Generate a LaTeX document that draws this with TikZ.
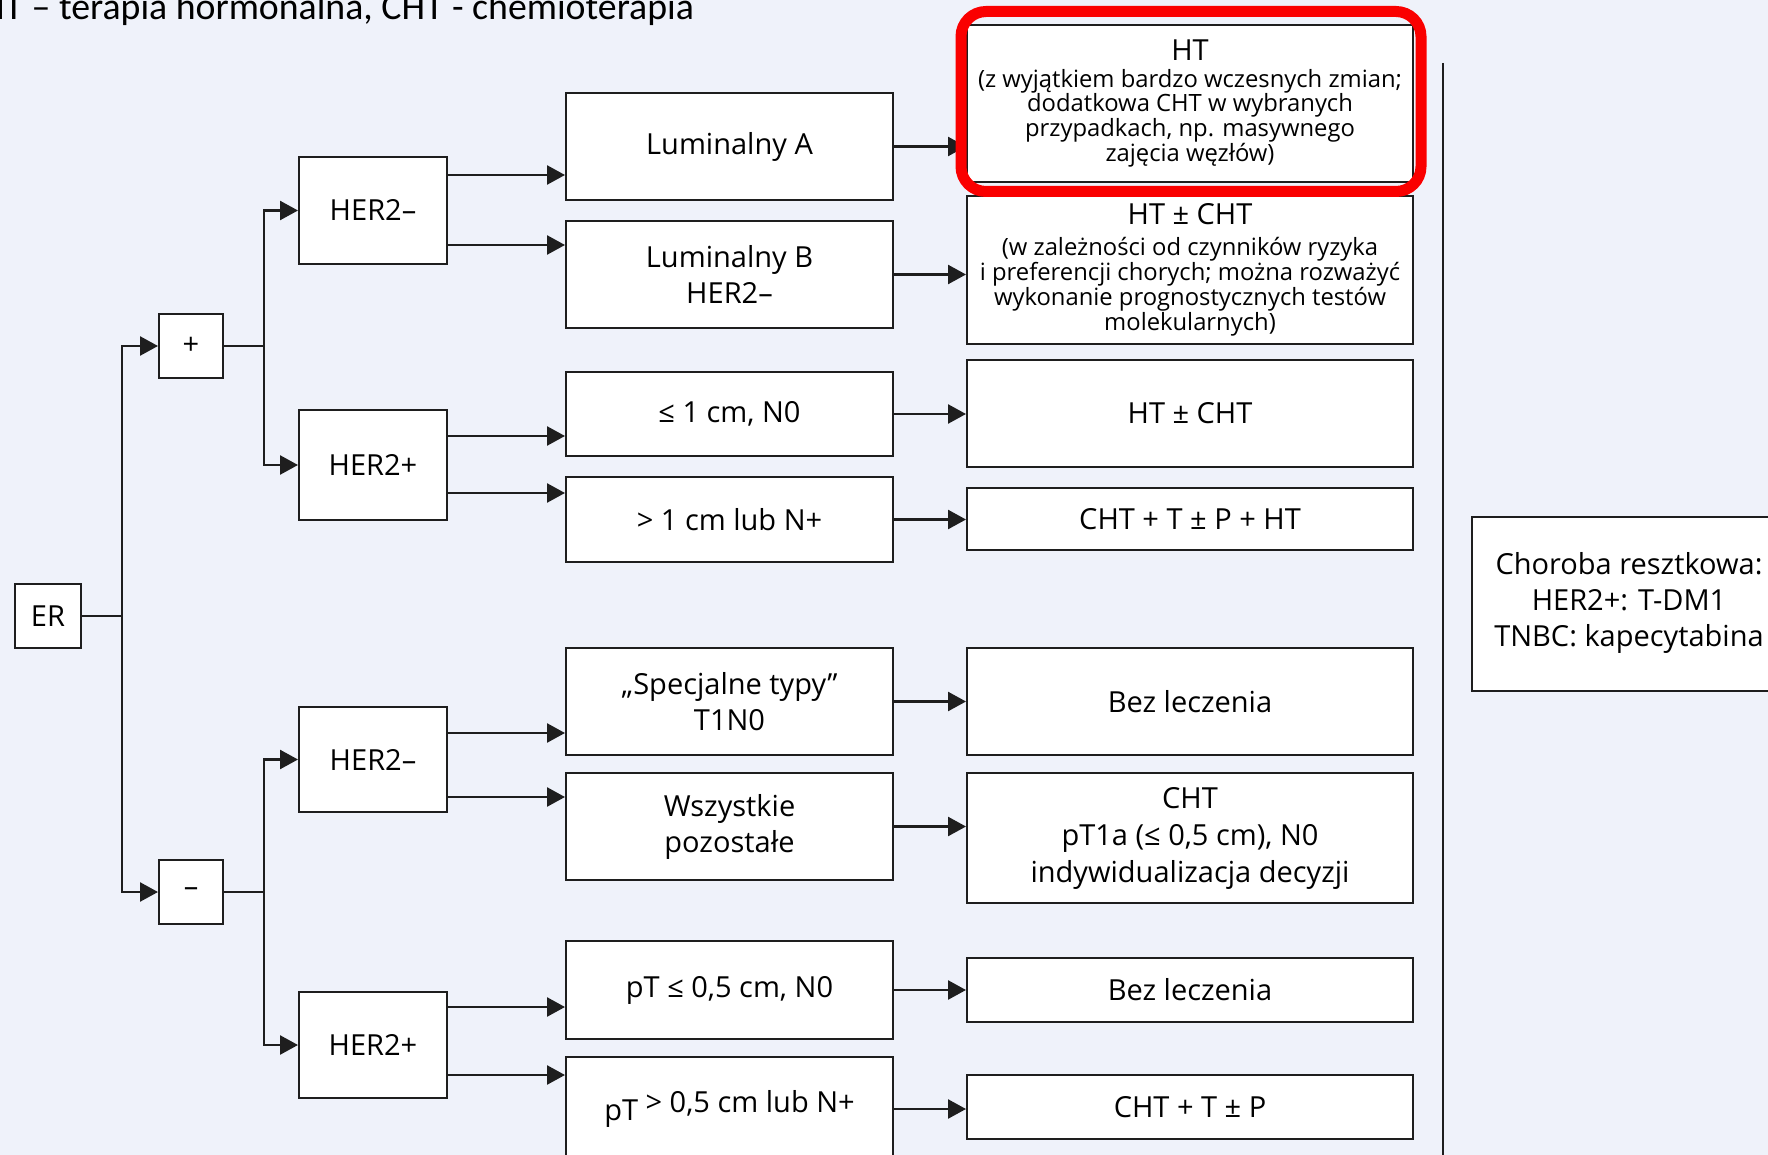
\documentclass[tikz,border=0pt]{standalone}
\usepackage{fontspec}
\setmainfont{Open Sans}
\newfontfamily\notefont{Carlito}
\usetikzlibrary{arrows.meta,calc}
\definecolor{pagebg}{RGB}{239,242,250}
\definecolor{edge}{RGB}{30,30,30}
\definecolor{mark}{RGB}{250,0,0}
\begin{document}
\begin{tikzpicture}[x=1pt,y=-1pt,
  box/.style={draw=edge,line width=2pt,fill=white,inner sep=0pt,align=center,
    font=\fontsize{29}{36}\selectfont},
  small/.style={font=\fontsize{23.8}{23.6}\selectfont},
  link/.style={draw=edge,line width=2.5pt},
  arr/.style={link,-{Triangle[length=18pt,width=19pt]}},
  col1/.style={box,minimum width=148pt},
  col2/.style={box,minimum width=327pt},
  col3/.style={box,minimum width=446pt},
]
\useasboundingbox (0,0) rectangle (1768,1155);
\clip (0,0) rectangle (1768,1155);
\fill[pagebg] (0,0) rectangle (1768,1155);

% abbreviations
\node[anchor=base west,inner sep=0pt,font=\notefont\fontsize{37.8}{40}\selectfont]
  (legend) at (-19,20) {HT – terapia hormonalna, CHT - chemioterapia};

% receptor status
\node[box,minimum width=66pt,minimum height=64pt] (er) at (48,616) {ER};
\node[box,minimum width=64pt,minimum height=64pt] (pos) at (191,346) {+};
\node[box,minimum width=64pt,minimum height=64pt] (neg) at (191,892) {–};

% HER2 status
\node[col1,minimum height=107pt] (hmA) at (373,210.5) {HER2–};
\node[col1,minimum height=110pt] (hpA) at (373,465) {HER2+};
\node[col1,minimum height=105pt] (hmB) at (373,759.5) {HER2–};
\node[col1,minimum height=106pt] (hpB) at (373,1045) {HER2+};

% subtypes and stages
\node[col2,minimum height=107pt] (lumA) at (729.5,146.5) {Luminalny A};
\node[col2,minimum height=107pt] (lumB) at (729.5,274.5) {Luminalny B\\HER2–};
\node[col2,minimum height=84pt] (le1) at (729.5,414) {≤ 1 cm, N0};
\node[col2,minimum height=85pt] (gt1) at (729.5,519.5) {> 1 cm lub N+};
\node[col2,minimum height=107pt] (spec) at (729.5,701.5) {„Specjalne typy”\\T1N0};
\node[col2,minimum height=107pt] (rest) at (729.5,826.5) {Wszystkie\\pozostałe};
\node[col2,minimum height=98pt] (ple) at (729.5,990) {pT ≤ 0,5 cm, N0};
\node[col2,minimum height=104pt] (pgt) at (729.5,1109) {\raisebox{-8pt}{pT} > 0,5 cm lub N+};

% treatment
\node[col3,small,minimum height=157pt] (ht1) at (1190,103.5)
  {{\fontsize{29}{30}\selectfont HT}\\[3pt]
   (z wyjątkiem bardzo wczesnych zmian;\\dodatkowa CHT w wybranych\\
   przypadkach, np. masywnego\\zajęcia węzłów)};
\node[col3,small,minimum height=148pt] (ht2) at (1190,270)
  {{\fontsize{29}{30}\selectfont HT ± CHT}\\[7pt]
   (w zależności od czynników ryzyka\\i preferencji chorych; można rozważyć\\
   wykonanie prognostycznych testów\\molekularnych)};
\node[col3,minimum height=107pt] (ht3) at (1190,413.5) {HT ± CHT};
\node[col3,minimum height=62pt] (cht1) at (1190,519) {CHT + T ± P + HT};
\node[col3,minimum height=107pt] (bez1) at (1190,701.5) {Bez leczenia};
\node[col3,minimum height=130pt,font=\fontsize{29}{37}\selectfont] (cht2) at (1190,838)
  {CHT\\pT1a (≤ 0,5 cm), N0\\indywidualizacja decyzji};
\node[col3,minimum height=64pt] (bez2) at (1190,990) {Bez leczenia};
\node[col3,minimum height=64pt] (cht3) at (1190,1107) {CHT + T ± P};

% separator and residual disease
\coordinate (sepTop) at (1443,63);
\coordinate (sepBot) at (1443,1160);
\draw[draw=edge,line width=2pt] (sepTop) -- (sepBot);
\node[box,minimum width=314pt,minimum height=174pt] (resid) at (1629,604) {};
\node[inner sep=0pt,align=center,font=\fontsize{29}{36}\selectfont] (residtxt) at (1629,603)
  {Choroba resztkowa:\\HER2+: T-DM1\\TNBC: kapecytabina};

% ER branches
\draw[link] (er.east) -- ++(40,0) coordinate (trunk);
\draw[arr] (trunk) |- (pos.west);
\draw[arr] (trunk) |- (neg.west);
\draw[link] (pos.east) -- ++(40,0) coordinate (forkA);
\draw[arr] (forkA) |- (hmA.west);
\draw[arr] (forkA) |- (hpA.west);
\draw[link] (neg.east) -- ++(40,0) coordinate (forkB);
\draw[arr] (forkB) |- (hmB.west);
\draw[arr] (forkB) |- (hpB.west);

% HER2 to subtypes
\coordinate (o1) at ($(hmA.east)+(0,-35.5)$);
\coordinate (o2) at ($(hmA.east)+(0,34.5)$);
\coordinate (o3) at ($(hpA.east)+(0,-29)$);
\coordinate (o4) at ($(hpA.east)+(0,28)$);
\coordinate (o5) at ($(hmB.east)+(0,-26.5)$);
\coordinate (o6) at ($(hmB.east)+(0,37.5)$);
\coordinate (o7) at ($(hpB.east)+(0,-38)$);
\coordinate (o8) at ($(hpB.east)+(0,30)$);
\draw[arr] (o1) -- (o1 -| lumA.west);
\draw[arr] (o2) -- (o2 -| lumB.west);
\draw[arr] (o3) -- (o3 -| le1.west);
\draw[arr] (o4) -- (o4 -| gt1.west);
\draw[arr] (o5) -- (o5 -| spec.west);
\draw[arr] (o6) -- (o6 -| rest.west);
\draw[arr] (o7) -- (o7 -| ple.west);
\draw[arr] (o8) -- (o8 -| pgt.west);

% subtypes to treatment
\draw[arr] (lumA.east) -- (lumA.east -| ht1.west);
\draw[arr] (lumB.east) -- (lumB.east -| ht2.west);
\draw[arr] (le1.east) -- (le1.east -| ht3.west);
\draw[arr] (gt1.east) -- (gt1.east -| cht1.west);
\draw[arr] (spec.east) -- (spec.east -| bez1.west);
\draw[arr] (rest.east) -- (rest.east -| cht2.west);
\draw[arr] (ple.east) -- (ple.east -| bez2.west);
\draw[arr] (pgt.east) -- (pgt.east -| cht3.west);

% highlight
\node[draw=mark,line width=11pt,rounded corners=25pt,minimum width=460pt,
  minimum height=180pt,inner sep=0pt] (hl) at (1191,101.5) {};
\end{tikzpicture}
\end{document}
